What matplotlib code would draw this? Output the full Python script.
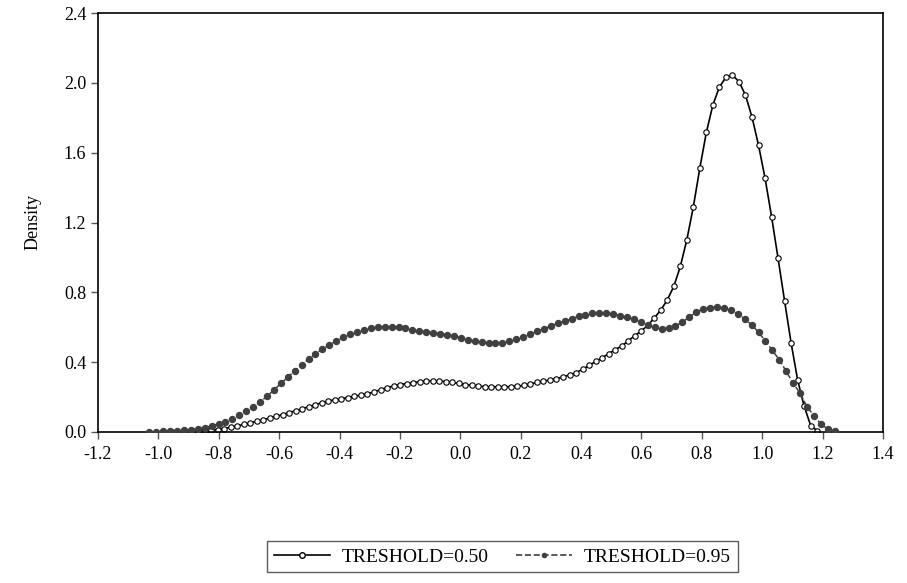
import numpy as np
import matplotlib
matplotlib.use("Agg")
import matplotlib.pyplot as plt

# kernel density evaluation grids (100 points each, as in the source output)
x_050_start, x_050_end = -0.955, 1.182
x_095_start, x_095_end = -1.030, 1.240

dens_050 = [
    0.000, 0.001, 0.002, 0.003, 0.005, 0.007, 0.010, 0.014, 0.020, 0.027,
    0.035, 0.043, 0.052, 0.061, 0.070, 0.080, 0.090, 0.100, 0.111, 0.122,
    0.133, 0.145, 0.157, 0.168, 0.177, 0.185, 0.191, 0.197, 0.204, 0.212,
    0.220, 0.229, 0.243, 0.254, 0.263, 0.272, 0.277, 0.283, 0.287, 0.291,
    0.293, 0.292, 0.289, 0.284, 0.278, 0.272, 0.267, 0.263, 0.260, 0.259,
    0.259, 0.259, 0.260, 0.263, 0.267, 0.275, 0.284, 0.291, 0.298, 0.306,
    0.315, 0.327, 0.340, 0.359, 0.381, 0.404, 0.424, 0.449, 0.471, 0.493,
    0.521, 0.552, 0.578, 0.611, 0.653, 0.698, 0.757, 0.834, 0.948, 1.101,
    1.290, 1.513, 1.717, 1.874, 1.976, 2.032, 2.044, 2.007, 1.929, 1.804,
    1.643, 1.454, 1.234, 0.994, 0.750, 0.510, 0.298, 0.148, 0.037, 0.007,
]

dens_095 = [
    0.001, 0.002, 0.003, 0.004, 0.006, 0.009, 0.013, 0.019, 0.025, 0.035,
    0.046, 0.060, 0.077, 0.097, 0.118, 0.141, 0.172, 0.205, 0.240, 0.278,
    0.314, 0.350, 0.385, 0.416, 0.448, 0.474, 0.499, 0.521, 0.542, 0.560,
    0.575, 0.587, 0.595, 0.600, 0.603, 0.603, 0.599, 0.594, 0.587, 0.581,
    0.575, 0.569, 0.563, 0.557, 0.550, 0.540, 0.529, 0.520, 0.514, 0.511,
    0.510, 0.511, 0.520, 0.533, 0.545, 0.560, 0.577, 0.592, 0.607, 0.622,
    0.634, 0.649, 0.662, 0.673, 0.680, 0.683, 0.681, 0.676, 0.666, 0.657,
    0.645, 0.628, 0.612, 0.600, 0.592, 0.597, 0.609, 0.628, 0.660, 0.686,
    0.706, 0.712, 0.716, 0.709, 0.696, 0.676, 0.649, 0.614, 0.571, 0.521,
    0.467, 0.414, 0.347, 0.280, 0.222, 0.145, 0.094, 0.046, 0.017, 0.006,
]

labels = ["TRESHOLD=0.50", "TRESHOLD=0.95"]
x_ticks = [-1.2, -1.0, -0.8, -0.6, -0.4, -0.2, 0.0, 0.2, 0.4, 0.6, 0.8, 1.0, 1.2, 1.4]
y_ticks = [0.0, 0.4, 0.8, 1.2, 1.6, 2.0, 2.4]

x_050 = np.linspace(x_050_start, x_050_end, len(dens_050))
x_095 = np.linspace(x_095_start, x_095_end, len(dens_095))

plt.rcParams['font.family'] = ['Liberation Serif', 'DejaVu Serif']

fig = plt.figure(figsize=(9.07, 5.83), dpi=100)
ax = fig.add_axes([98 / 907, 1 - 432 / 583, 785 / 907, 419 / 583])

ax.plot(x_050, dens_050, color='black', linewidth=1.2, marker='o',
        markersize=3.9, markerfacecolor='white', markeredgecolor='black',
        markeredgewidth=0.8, label=labels[0], zorder=2)
ax.plot(x_095, dens_095, color='#404040', linewidth=1.1, linestyle='--',
        marker='o', markersize=4.3, markerfacecolor='#404040',
        markeredgecolor='#404040', label=labels[1], zorder=3)

ax.set_xlim(-1.2, 1.4)
ax.set_ylim(0.0, 2.4)
ax.set_xticks(x_ticks)
ax.set_yticks(y_ticks)
ax.set_xticklabels(['%.1f' % v for v in x_ticks])
ax.set_yticklabels(['%.1f' % v for v in y_ticks])
ax.tick_params(direction='out', length=5, width=1, labelsize=13, color='#555555',
               top=False, right=False)
ax.tick_params(axis='x', pad=5)
for s in ax.spines.values():
    s.set_linewidth(1.2)
    s.set_color('black')

ax.set_ylabel('Density', fontsize=13, labelpad=16)

leg_handles = [
    plt.Line2D([], [], color='black', linewidth=1.2, marker='o', markersize=4,
               markerfacecolor='white', markeredgecolor='black'),
    plt.Line2D([], [], color='#404040', linewidth=1.2, linestyle='--', marker='o',
               markersize=3, markerfacecolor='#404040', markeredgecolor='#404040'),
]
leg = ax.legend(leg_handles, labels, loc='center', bbox_to_anchor=(0.515, -0.298),
                ncol=2, frameon=True, fancybox=False, fontsize=14,
                handlelength=2.9, handletextpad=0.6, columnspacing=1.4,
                borderpad=0.35, edgecolor='#333333')
leg.get_frame().set_linewidth(1.0)

fig.savefig('out.png', dpi=100)
